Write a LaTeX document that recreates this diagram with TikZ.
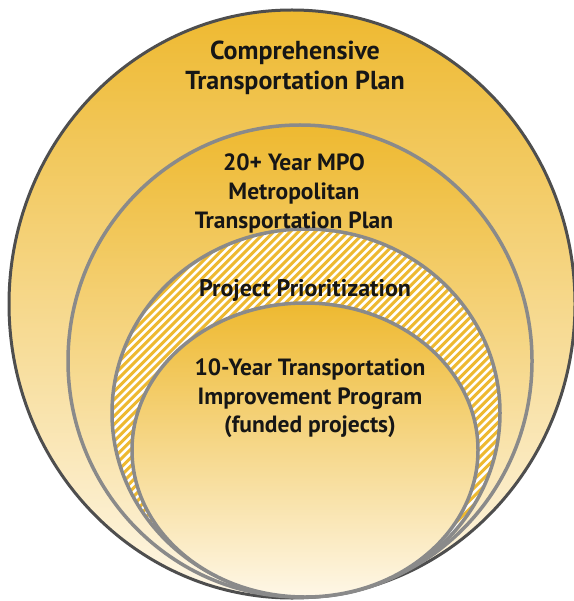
\documentclass[tikz,border=0pt]{standalone}
\usepackage{fontspec}
\setmainfont{PT Sans}
\definecolor{gold}{RGB}{238,185,48}
\definecolor{cream}{RGB}{254,247,231}
\definecolor{ringgray}{RGB}{138,138,138}
\definecolor{outergray}{RGB}{78,78,78}
\definecolor{txt}{RGB}{22,22,22}
\begin{document}
\begin{tikzpicture}[x=1pt,y=-1pt,
  lbl/.style={align=center, text=txt, inner sep=0pt, anchor=north},
  goldshade/.style={top color=gold, bottom color=cream},
  ring/.style={draw=ringgray, line width=3.5pt},
]
\useasboundingbox (0,0) rectangle (573,601);
% outer ellipse
\shade[goldshade] (292,304) ellipse [x radius=283, y radius=294];
\draw[outergray, line width=3pt] (292,304) ellipse [x radius=283, y radius=294];
% MPO ellipse
\shade[goldshade] (300,361) ellipse [x radius=232, y radius=236];
\draw[ring] (300,361) ellipse [x radius=232, y radius=236];
% hatched ellipse
\begin{scope}
  \clip (306,413) ellipse [x radius=194, y radius=184];
  \fill[white] (100,220) rectangle (510,600);
  \foreach \i in {-420,-411.7,...,620} \draw[gold, line width=3pt] (\i,610) -- ++(420,-420);
\end{scope}
\draw[ring] (306,413) ellipse [x radius=194, y radius=184];
% inner ellipse
\shade[goldshade] (305,450) ellipse [x radius=173, y radius=147];
\draw[ring] (305,450) ellipse [x radius=173, y radius=147];
% labels
\node[lbl, font=\bfseries\fontsize{26}{30}\selectfont] (ctp) at (295,41) {Comprehensive\\Transportation Plan};
\node[lbl, font=\bfseries\fontsize{23.5}{29}\selectfont] (mtp) at (294,154) {20+ Year MPO\\Metropolitan\\Transportation Plan};
\node[lbl, font=\bfseries\fontsize{24}{29}\selectfont] (pp) at (305,279) {Project Prioritization};
\node[lbl, font=\bfseries\fontsize{23.5}{28.5}\selectfont] (tip) at (310,359) {10-Year Transportation\\Improvement Program\\(funded projects)};
\end{tikzpicture}
\end{document}
